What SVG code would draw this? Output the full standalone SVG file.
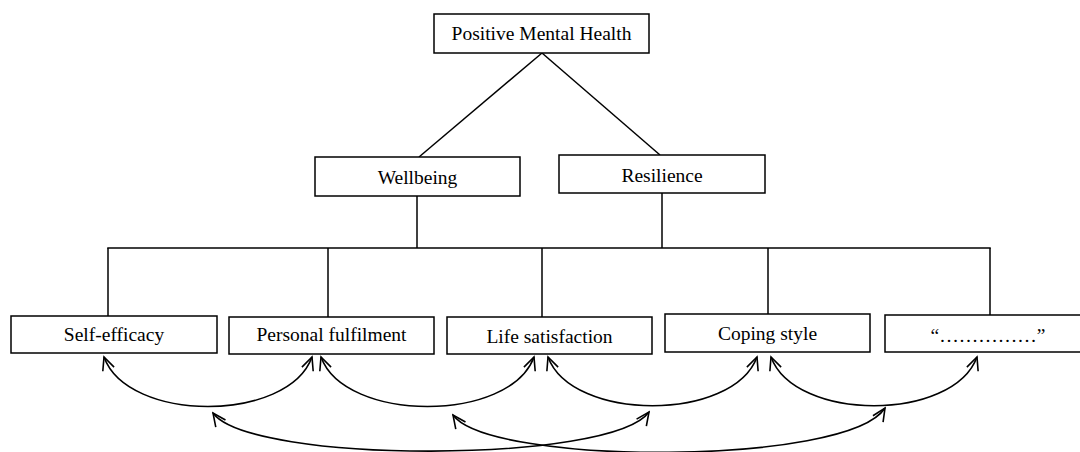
<svg xmlns="http://www.w3.org/2000/svg" width="1080" height="452" viewBox="0 0 1080 452">
<style>
.box{fill:#fff;stroke:#000;stroke-width:1.5}
.lbl{font-family:"Liberation Serif","Times New Roman",serif;font-size:19.5px;fill:#000;text-anchor:middle}
.ln{stroke:#000;stroke-width:1.5;fill:none}
.arc{stroke:#000;stroke-width:1.6;fill:none;marker-start:url(#ah);marker-end:url(#ah)}
</style>
<defs>
<marker id="ah" markerUnits="userSpaceOnUse" viewBox="-15 -8 17 16" markerWidth="17" markerHeight="16" refX="0" refY="0" orient="auto-start-reverse">
<path d="M-13,-6 L0,0 L-13,6" fill="none" stroke="#000" stroke-width="1.6"/>
</marker>
</defs>
<rect width="1080" height="452" fill="#fff"/>
<g id="connectors">
<line class="ln" x1="542" y1="53" x2="419" y2="157"/>
<line class="ln" x1="542" y1="53" x2="660" y2="155"/>
<line class="ln" x1="417" y1="196" x2="417" y2="248"/>
<line class="ln" x1="662" y1="193" x2="662" y2="248"/>
<line class="ln" x1="107.25" y1="248" x2="990.75" y2="248"/>
<line class="ln" x1="108" y1="248" x2="108" y2="316"/>
<line class="ln" x1="328" y1="248" x2="328" y2="317"/>
<line class="ln" x1="542" y1="248" x2="542" y2="317"/>
<line class="ln" x1="768" y1="248" x2="768" y2="314"/>
<line class="ln" x1="990" y1="248" x2="990" y2="315"/>
<path class="arc" d="M104,357 C128,423 288,423 312,357"/>
<path class="arc" d="M321,357 C345,423 510,423 534,357"/>
<path class="arc" d="M548,357 C572,422 733,422 757,357"/>
<path class="arc" d="M771,357 C795,422 953,422 977,357"/>
<path class="arc" d="M213,413 C250,464 612,464 649,412"/>
<path class="arc" d="M453,415 C490,466 848,466 885,408"/>
</g>
<g id="n-pmh"><rect class="box" x="434" y="14" width="215" height="39"/><text class="lbl" x="541.5" y="40">Positive Mental Health</text></g>
<g id="n-wellbeing"><rect class="box" x="315" y="157" width="205" height="39"/><text class="lbl" x="417.5" y="184">Wellbeing</text></g>
<g id="n-resilience"><rect class="box" x="559" y="155" width="206" height="38"/><text class="lbl" x="662" y="182">Resilience</text></g>
<g id="n-selfefficacy"><rect class="box" x="11" y="316" width="206" height="37"/><text class="lbl" x="114" y="341">Self-efficacy</text></g>
<g id="n-personal"><rect class="box" x="229" y="317" width="205" height="37"/><text class="lbl" x="331.5" y="341">Personal fulfilment</text></g>
<g id="n-life"><rect class="box" x="447" y="317" width="205" height="37"/><text class="lbl" x="549.5" y="343">Life satisfaction</text></g>
<g id="n-coping"><rect class="box" x="665" y="314" width="205" height="38"/><text class="lbl" x="767.5" y="340">Coping style</text></g>
<g id="n-more"><rect class="box" x="885" y="315" width="206" height="37"/><text class="lbl" x="988" y="342">“……………”</text></g>
</svg>
